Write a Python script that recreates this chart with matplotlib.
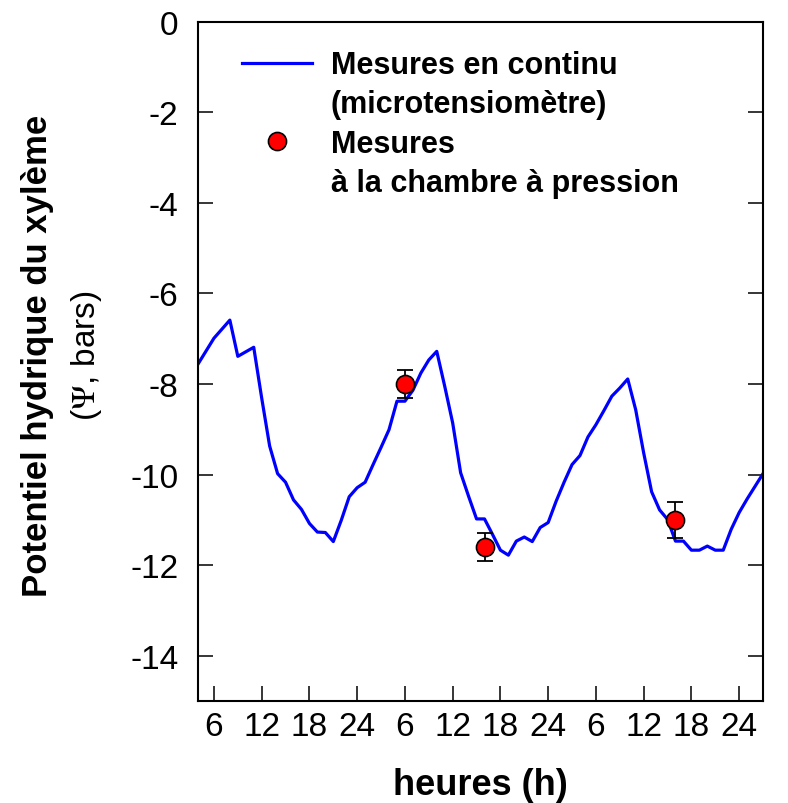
import matplotlib
matplotlib.use("Agg")
import matplotlib.pyplot as plt
from matplotlib.lines import Line2D

# continuous measurements (microtensiometer), hours since day 1 00:00
heures = [4, 6, 8, 9, 11, 12, 13, 14, 15, 16, 17, 18, 19, 20, 21, 22, 23, 24,
          25, 26, 27, 28, 29, 30, 31, 32, 33, 34, 35, 36, 37, 38, 39, 40,
          41, 42, 43, 44, 45, 46, 47, 48, 49, 50, 51, 52, 53, 54, 55, 56,
          57, 58, 59, 60, 61, 62, 63, 64, 65, 66, 67, 68, 69, 70, 71, 72,
          73, 75]
psi_continu = [-7.56, -6.99, -6.59, -7.39, -7.19, -8.31, -9.37, -9.98, -10.17,
               -10.56, -10.77, -11.08, -11.27, -11.28, -11.48, -11.01, -10.49,
               -10.29, -10.17, -9.78, -9.40, -9.01, -8.38, -8.38, -8.14, -7.76,
               -7.47, -7.28, -8.05, -8.86, -9.96, -10.48, -10.98, -10.98,
               -11.32, -11.67, -11.78, -11.47, -11.38, -11.48, -11.17, -11.06,
               -10.59, -10.17, -9.78, -9.58, -9.17, -8.90, -8.59, -8.27, -8.09,
               -7.89, -8.57, -9.52, -10.38, -10.78, -10.99, -11.47, -11.47,
               -11.67, -11.67, -11.58, -11.67, -11.67, -11.21, -10.84, -10.54,
               -9.98]

# pressure chamber measurements
heures_chambre = [30, 40, 64]
psi_chambre = [-8.0, -11.6, -11.0]
erreur_chambre = [0.3, 0.3, 0.4]

xticks = [6, 12, 18, 24, 30, 36, 42, 48, 54, 60, 66, 72]
xticklabels = ["6", "12", "18", "24", "6", "12", "18", "24", "6", "12", "18", "24"]
yticks = [0, -2, -4, -6, -8, -10, -12, -14]

plt.rcParams['font.family'] = ['Liberation Sans', 'DejaVu Sans']
plt.rcParams['mathtext.fontset'] = 'stix'
plt.rcParams['axes.unicode_minus'] = False

fig = plt.figure(figsize=(7.88, 8.04), dpi=100)
ax = fig.add_axes([0.2513, 0.1269, 0.717, 0.8449])

ax.plot(heures, psi_continu, color="#0000ff", lw=2.3, zorder=2)
ax.errorbar(heures_chambre, psi_chambre, yerr=erreur_chambre, fmt="none",
            ecolor="black", elinewidth=1.3, capsize=6, capthick=1.3, zorder=3)
ax.plot(heures_chambre, psi_chambre, "o", ms=13, mfc="red", mec="black",
        mew=1.2, zorder=4)

ax.set_xlim(4, 75)
ax.set_ylim(-15, 0)
ax.set_xticks(xticks)
ax.set_xticklabels(xticklabels)
ax.set_yticks(yticks)
ax.tick_params(axis="both", direction="in", length=11, width=1.1,
               labelsize=24)
ax.tick_params(axis="y", right=True, pad=14)
ax.tick_params(axis="x", pad=7)
for s in ax.spines.values():
    s.set_linewidth(1.5)

ax.set_xlabel("heures (h)", fontsize=26, fontweight="bold", labelpad=18)
ax.text(-0.285, 0.51, "Potentiel hydrique du xylème", transform=ax.transAxes,
        rotation=90, ha="center", va="center", fontsize=25, fontweight="bold")
ax.text(-0.197, 0.51, r"($\Psi$, bars)", transform=ax.transAxes,
        rotation=90, ha="center", va="center", fontsize=24)

blank = Line2D([], [], linestyle="none", marker="none")
handles = [Line2D([], [], color="#0000ff", lw=2.3), blank,
           Line2D([], [], linestyle="none", marker="o", ms=13, mfc="red",
                  mec="black", mew=1.2), blank]
labels = ["Mesures en continu", "(microtensiomètre)", "Mesures",
          "à la chambre à pression"]
leg = ax.legend(handles, labels, loc="upper left", bbox_to_anchor=(0.078, 0.958),
                frameon=False, handlelength=2.3, handletextpad=0.6,
                labelspacing=0.3, borderpad=0, borderaxespad=0,
                prop={"size": 22, "weight": "bold"})

fig.savefig("out.png", dpi=100)
